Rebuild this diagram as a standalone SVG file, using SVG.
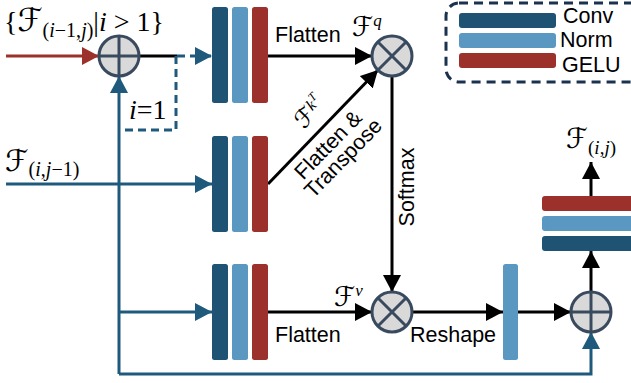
<svg xmlns="http://www.w3.org/2000/svg" width="631" height="383" viewBox="0 0 631 383">
<style>
.lbl{font-family:"Liberation Sans",Arial,sans-serif;font-size:21.5px;fill:#000}
.math{font-family:"Liberation Serif","DejaVu Serif",serif;fill:#000}
.it{font-style:italic}
.cal{font-family:"DejaVu Sans",serif;font-style:normal}
.conv{fill:#1f5373}
.norm{fill:#5a98c1}
.gelu{fill:#9c312b}
.op circle{fill:#d9d9d9;stroke:#3a4a5e;stroke-width:3}
.op line{stroke:#3a4a5e;stroke-width:3}
.blk{stroke:#000;stroke-width:3;fill:none}
.blu{stroke:#1f5a7c;stroke-width:3;fill:none}
.red{stroke:#9c312b;stroke-width:3;fill:none}
</style>
<defs>
<marker id="ab" markerUnits="userSpaceOnUse" markerWidth="17" markerHeight="18" refX="17" refY="9" orient="auto"><path d="M0,0 L17,9 L0,18 z" fill="#000"/></marker>
<marker id="au" markerUnits="userSpaceOnUse" markerWidth="17" markerHeight="18" refX="17" refY="9" orient="auto"><path d="M0,0 L17,9 L0,18 z" fill="#1f5a7c"/></marker>
<marker id="ar" markerUnits="userSpaceOnUse" markerWidth="17" markerHeight="18" refX="17" refY="9" orient="auto"><path d="M0,0 L17,9 L0,18 z" fill="#9c312b"/></marker>
</defs>

<g id="connectors">
<path class="red" d="M6,56 L99,56" marker-end="url(#ar)"/>
<path class="blk" d="M139,56 L177,56"/>
<path class="blu" d="M177,56 L212,56" stroke-dasharray="8,5" marker-end="url(#au)"/>
<path class="blu" d="M176,56 L176,130 L124,130" stroke-dasharray="8,5"/>
<path class="blu" d="M6,184 L212,184" marker-end="url(#au)"/>
<path class="blu" d="M119,374 L119,76" marker-end="url(#au)"/>
<path class="blu" d="M119,312 L212,312" marker-end="url(#au)"/>
<path class="blu" d="M119,374 L591,374 L591,332" marker-end="url(#au)"/>
<path class="blk" d="M268,56 L372,56" marker-end="url(#ab)"/>
<path class="blk" d="M268,184 L378,70" marker-end="url(#ab)"/>
<path class="blk" d="M392,76 L392,292" marker-end="url(#ab)"/>
<path class="blk" d="M268,312 L372,312" marker-end="url(#ab)"/>
<path class="blk" d="M412,312 L503,312" marker-end="url(#ab)"/>
<path class="blk" d="M518,312 L571,312" marker-end="url(#ab)"/>
<path class="blk" d="M591,292 L591,251" marker-end="url(#ab)"/>
<path class="blk" d="M591,196 L591,162" marker-end="url(#ab)"/>
</g>

<g id="add-top" class="op">
<circle cx="119" cy="56" r="20"/>
<line x1="99" y1="56" x2="139" y2="56"/><line x1="119" y1="36" x2="119" y2="76"/>
</g>
<g id="mul-q" class="op">
<circle cx="392" cy="56" r="20"/>
<line x1="378" y1="42" x2="406" y2="70"/><line x1="406" y1="42" x2="378" y2="70"/>
</g>
<g id="mul-v" class="op">
<circle cx="392" cy="312" r="20"/>
<line x1="378" y1="298" x2="406" y2="326"/><line x1="406" y1="298" x2="378" y2="326"/>
</g>
<g id="add-out" class="op">
<circle cx="591" cy="312" r="20"/>
<line x1="571" y1="312" x2="611" y2="312"/><line x1="591" y1="292" x2="591" y2="332"/>
</g>

<g id="block-q">
<rect class="conv" x="212" y="7" width="16" height="96" rx="2.5"/>
<rect class="norm" x="232" y="7" width="16" height="96" rx="2.5"/>
<rect class="gelu" x="252" y="7" width="16" height="96" rx="2.5"/>
</g>
<g id="block-k">
<rect class="conv" x="212" y="136" width="16" height="96" rx="2.5"/>
<rect class="norm" x="232" y="136" width="16" height="96" rx="2.5"/>
<rect class="gelu" x="252" y="136" width="16" height="96" rx="2.5"/>
</g>
<g id="block-v">
<rect class="conv" x="212" y="264" width="16" height="96" rx="2.5"/>
<rect class="norm" x="232" y="264" width="16" height="96" rx="2.5"/>
<rect class="gelu" x="252" y="264" width="16" height="96" rx="2.5"/>
</g>
<g id="reshape-bar">
<rect class="norm" x="503" y="264" width="15" height="96" rx="2.5"/>
</g>
<g id="block-out">
<rect class="gelu" x="542" y="196" width="100" height="15" rx="3"/>
<rect class="norm" x="542" y="216" width="100" height="15" rx="3"/>
<rect class="conv" x="542" y="236" width="100" height="15" rx="3"/>
</g>

<g id="legend">
<rect x="446" y="3" width="200" height="79" rx="13" fill="none" stroke="#1b3150" stroke-width="3" stroke-dasharray="9,6"/>
<rect class="conv" x="459" y="13" width="97" height="15" rx="3"/>
<rect class="norm" x="459" y="33" width="97" height="15" rx="3"/>
<rect class="gelu" x="459" y="53" width="97" height="15" rx="3"/>
<text class="lbl" x="563" y="23">Conv</text>
<text class="lbl" x="560" y="47">Norm</text>
<text class="lbl" x="562" y="72">GELU</text>
</g>

<g id="labels">
<text class="math" x="4" y="31" font-size="28">{<tspan class="cal" font-size="32">ℱ</tspan><tspan font-size="20" dy="6">(<tspan class="it">i</tspan>−1,<tspan class="it">j</tspan>)</tspan><tspan dy="-6">|<tspan class="it">i</tspan> &gt; 1}</tspan></text>
<text class="math" x="129" y="119" font-size="28"><tspan class="it">i</tspan>=1</text>
<text class="math" x="5" y="171" font-size="25"><tspan class="cal" font-size="30">ℱ</tspan><tspan font-size="20" dy="5">(<tspan class="it">i</tspan>,<tspan class="it">j</tspan>−1)</tspan></text>
<text class="lbl" x="275" y="42">Flatten</text>
<text class="math" x="352" y="36" font-size="24"><tspan class="cal" font-size="27">ℱ</tspan><tspan class="it" font-size="17" dy="-10">q</tspan></text>
<text class="lbl" x="275" y="342">Flatten</text>
<text class="math" x="334" y="306" font-size="24"><tspan class="cal" font-size="27">ℱ</tspan><tspan class="it" font-size="17" dy="-10">v</tspan></text>
<text class="lbl" x="410" y="342">Reshape</text>
<text class="lbl" transform="translate(414,187) rotate(-90)" text-anchor="middle">Softmax</text>
<text class="math" x="566" y="148" font-size="24"><tspan class="cal" font-size="28">ℱ</tspan><tspan font-size="19" dy="6">(<tspan class="it">i</tspan>,<tspan class="it">j</tspan>)</tspan></text>
<g transform="translate(268,184) rotate(-45.8)">
<text class="lbl" x="70" y="23" text-anchor="middle">Flatten &amp;</text>
<text class="lbl" x="71" y="43" text-anchor="middle">Transpose</text>
<text class="math" x="64" y="-12" font-size="21"><tspan class="cal" font-size="24">ℱ</tspan><tspan class="it" font-size="16" dy="-7">k</tspan><tspan class="it" font-size="12" dy="-6">T</tspan></text>
</g>
</g>
</svg>
